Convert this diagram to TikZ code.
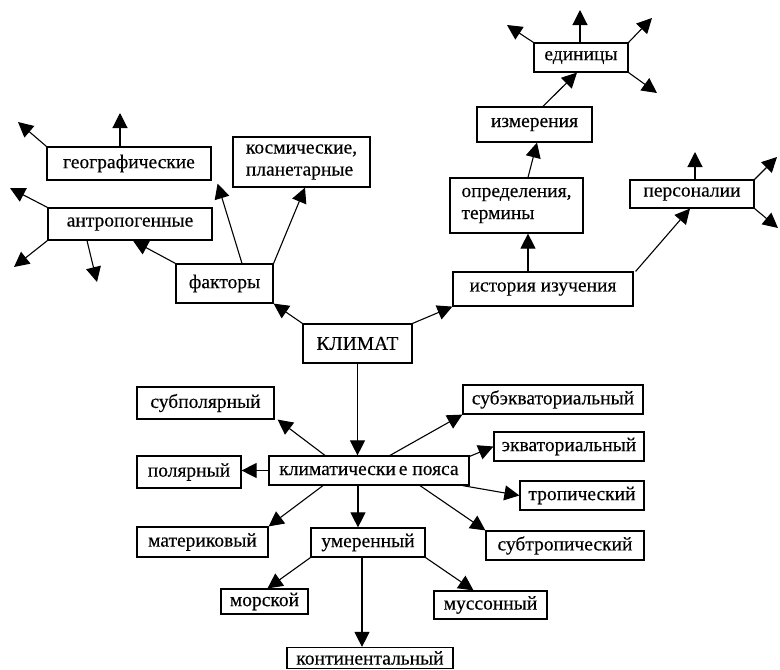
\documentclass[tikz,border=0pt]{standalone}
\usepackage{fontspec}
\setmainfont{Liberation Serif}[UprightFeatures={FakeBold=0.3}]
\usetikzlibrary{arrows.meta}
\begin{document}
\begin{tikzpicture}[x=1pt,y=-1pt,
  box/.style={draw,line width=1.2pt,inner sep=0pt,font=\fontsize{19.5}{22}\selectfont},
  arr/.style={line width=1.1pt,-{Triangle[length=15pt,width=15pt]}}]
\useasboundingbox (0,0) rectangle (780,670);
% top-left
\node[box,minimum width=164,minimum height=33] (geo) at (129,163.5) {географические};
\node[box,minimum width=137,minimum height=50,align=left] (kosm) at (301.5,162) {космические,\\планетарные};
\node[box,minimum width=164,minimum height=32] (antro) at (130,224) {антропогенные};
\node[box,minimum width=97,minimum height=39] (fakt) at (224.5,283.5) {факторы};
\node[box,minimum width=109,minimum height=39] (klimat) at (357.5,343.5) {КЛИМАТ};
% top-right
\node[box,minimum width=94,minimum height=29] (edin) at (581,57.5) {единицы};
\node[box,minimum width=115,minimum height=35] (izmer) at (534.5,124.5) {измерения};
\node[box,minimum width=133,minimum height=55,align=left] (opred) at (516.5,205.5) {определения,\\термины};
\node[box,minimum width=124,minimum height=28] (person) at (692,194) {персоналии};
\node[box,minimum width=180,minimum height=34] (istor) at (543,289) {история изучения};
% bottom
\node[box,minimum width=137,minimum height=32] (subpol) at (205.5,403) {субполярный};
\node[box,minimum width=104,minimum height=32] (polar) at (189,472) {полярный};
\node[box,minimum width=200,minimum height=29] (klimp) at (369,470.5) {климатически\kern3pt{}е пояса};
\node[box,minimum width=131,minimum height=30] (mater) at (202.5,542) {материковый};
\node[box,minimum width=114,minimum height=29] (umer) at (368,542.5) {умеренный};
\node[box,minimum width=87,minimum height=25] (morsk) at (264.5,601.5) {морской};
\node[box,minimum width=113,minimum height=28] (musson) at (490.5,605) {муссонный};
\node[box,minimum width=166,minimum height=21] (kontin) at (370,658) {континентальный};
\node[box,minimum width=180,minimum height=29] (subekv) at (553,399.5) {субэкваториальный};
\node[box,minimum width=150,minimum height=29] (ekvat) at (569,446.5) {экваториальный};
\node[box,minimum width=124,minimum height=29] (trop) at (582,495.5) {тропический};
\node[box,minimum width=158,minimum height=29] (subtrop) at (565,545.5) {субтропический};
% free ends
\coordinate (a1) at (10,188);
\coordinate (a2) at (14,267);
\coordinate (a3) at (97,282);
\coordinate (g1) at (18,122);
\coordinate (g2) at (120,113);
\coordinate (e1) at (507,25);
\coordinate (e2) at (580,10);
\coordinate (e3) at (652,18);
\coordinate (e4) at (657,93);
\coordinate (p1) at (695,152);
\coordinate (p2) at (777,157);
\coordinate (p3) at (778,228);
% connectors
\draw[arr] (fakt.north west) -- ([xshift=3pt]antro.south);
\draw[arr] ([xshift=17.5pt]fakt.north) -- ([xshift=6pt,yshift=-3pt]geo.south east);
\draw[arr] (fakt.north east) -- ([xshift=3.5pt]kosm.south);
\draw[arr] (antro.north west) -- (a1);
\draw[arr] (antro.south west) -- (a2);
\draw[arr] ([xshift=-43pt]antro.south) -- (a3);
\draw[arr] (geo.north west) -- (g1);
\draw[arr] ([xshift=-9pt]geo.north) -- (g2);
\draw[arr] (klimat.north west) -- (fakt.south east);
\draw[arr] (klimat.north east) -- (istor.south west);
\draw[arr] (klimat.south) -- (klimat.south |- klimp.north);
\draw[arr] ([xshift=-15pt]istor.north) -- ([xshift=11.5pt]opred.south);
\draw[arr] ([xshift=2pt]istor.north east) -- ([xshift=-2pt]person.south);
\draw[arr] ([xshift=11.5pt]opred.north) -- ([xshift=2.5pt]izmer.south);
\draw[arr] ([xshift=8.5pt]izmer.north) -- ([xshift=-4pt]edin.south);
\draw[arr] (edin.north west) -- (e1);
\draw[arr] ([xshift=-1pt]edin.north) -- (e2);
\draw[arr] (edin.north east) -- (e3);
\draw[arr] (edin.south east) -- (e4);
\draw[arr] ([xshift=3pt]person.north) -- (p1);
\draw[arr] (person.north east) -- (p2);
\draw[arr] (person.south east) -- (p3);
\draw[arr] ([xshift=-44pt]klimp.north) -- ([xshift=3pt]subpol.south east);
\draw[arr] (klimp.west) -- (klimp.west -| polar.east);
\draw[arr] ([xshift=-46pt]klimp.south) -- (mater.north east);
\draw[arr] ([xshift=21pt]klimp.north) -- (subekv.south west);
\draw[arr] ([yshift=-1pt]klimp.north east) -- (ekvat.west);
\draw[arr] ([xshift=-7pt]klimp.south east) -- (trop.west);
\draw[arr] ([xshift=51pt]klimp.south) -- (subtrop.north west);
\draw[arr] ([xshift=-11pt]klimp.south) -- ([xshift=-10pt]umer.north);
\draw[arr] (umer.south west) -- ([xshift=3pt]morsk.north);
\draw[arr] (umer.south east) -- ([xshift=-17pt]musson.north);
\draw[arr] ([xshift=-6pt]umer.south) -- ([xshift=-8pt]kontin.north);
\end{tikzpicture}
\end{document}
